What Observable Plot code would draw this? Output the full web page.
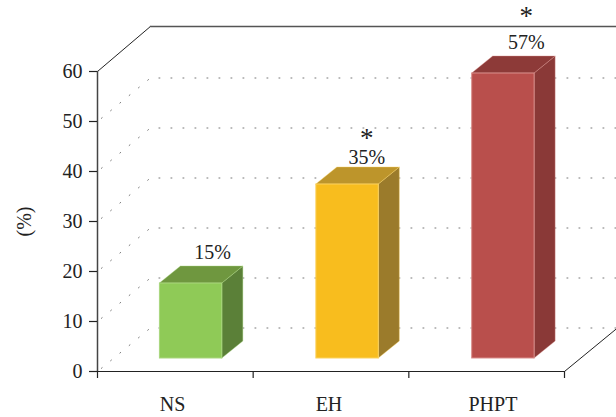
<!DOCTYPE html>
<html><head><meta charset="utf-8">
<script src="https://cdn.jsdelivr.net/npm/d3@7"></script>
<script src="https://cdn.jsdelivr.net/npm/@observablehq/plot@0.6"></script>
<style>html,body{margin:0;padding:0;background:#fff}svg{display:block;overflow:visible}</style>
</head><body><div id="chart"></div>
<script>
const categories = ["NS", "EH", "PHPT"];
const values = [15, 35, 57];
const labels = ["15%", "35%", "57%"];
const starred = [false, true, true];
const barStart = [0.401, 1.406, 2.407];
const barWidth = 0.401;
const base = 2.6;
const categoryX = [0.482, 1.487, 2.54];
const labelX = [0.74, 1.73, 2.755];
const labelOffset = [2.7, 2.0, 2.8];
const starOffset = [0, 5.8, 8.0];
const frontFill = ["#8fca57", "#f8bd1e", "#b94f4c"];
const topFill = ["#6f973f", "#bd952b", "#8d3a38"];
const sideFill = ["#5b8038", "#9b7b2b", "#8a3937"];
const edge = ["#a9d67e", "#fbd25f", "#d98f8c"];
const wallLevels = [0, 10, 20, 30, 40, 50];
const yTicks = [0, 10, 20, 30, 40, 50, 60];
const xTicks = [0, 1, 2, 3];
const depthX = 0.34, depthY = 8.7;
const barDepthX = 0.135, barDepthY = 3.4;

const font = "'Liberation Serif', serif";
const marks = [];

// back wall and floor dotted lines
const wall = wallLevels.flatMap(v => [
  {v, x: 0, y: v},
  {v, x: depthX, y: v + depthY},
  {v, x: 3 + depthX, y: v + depthY}
]);
marks.push(Plot.line(wall, {x: "x", y: "y", z: "v", stroke: "#777", strokeWidth: 1, strokeDasharray: "1 11", strokeDashoffset: -5}));

// solid frame
marks.push(Plot.line([{x: 0, y: 60}, {x: depthX, y: 60 + 9}], {x: "x", y: "y", stroke: "#222", strokeWidth: 1}));
marks.push(Plot.line([{x: depthX, y: 60 + 9}, {x: 3 + depthX, y: 60 + 9}], {x: "x", y: "y", stroke: "#555", strokeWidth: 1.5}));
marks.push(Plot.line([{x: 3, y: 0}, {x: 3 + depthX, y: depthY}], {x: "x", y: "y", stroke: "#222", strokeWidth: 1}));
marks.push(Plot.line([{x: 0, y: 0}, {x: 0, y: 60}], {x: "x", y: "y", stroke: "#444", strokeWidth: 1.5}));
marks.push(Plot.line([{x: 0, y: 0}, {x: 3, y: 0}], {x: "x", y: "y", stroke: "#222", strokeWidth: 1.2}));

// bars
categories.forEach((c, i) => {
  const x0 = barStart[i], x1 = x0 + barWidth, top = base + values[i] - (i === 1 ? 0.2 : 0);
  marks.push(Plot.areaY([
    {x: x1, y1: base, y2: top},
    {x: x1 + barDepthX, y1: base + barDepthY, y2: top + barDepthY}
  ], {x: "x", y1: "y1", y2: "y2", fill: sideFill[i], stroke: edge[i], strokeWidth: 0.4}));
  marks.push(Plot.areaX([
    {y: top, x1: x0, x2: x1},
    {y: top + barDepthY, x1: x0 + barDepthX, x2: x1 + barDepthX}
  ], {y: "y", x1: "x1", x2: "x2", fill: topFill[i], stroke: edge[i], strokeWidth: 0.4}));
  marks.push(Plot.rect([{x1: x0, x2: x1, y1: base, y2: top}], {x1: "x1", x2: "x2", y1: "y1", y2: "y2", fill: frontFill[i], stroke: edge[i], strokeWidth: 1}));
  marks.push(Plot.text([labels[i]], {x: () => labelX[i], y: () => top + labelOffset[i] + barDepthY, text: d => d, fontSize: 20, fill: "#222", lineAnchor: "middle"}));
  if (starred[i]) marks.push(Plot.text(["*"], {x: () => labelX[i], y: () => top + starOffset[i] + barDepthY, text: d => d, fontSize: 27, fill: "#222", lineAnchor: "middle"}));
});

// axes
marks.push(Plot.axisY(yTicks, {anchor: "left", tickSize: 8, tickPadding: 7, fontSize: 20, label: null, stroke: "#222", fill: "#222", strokeWidth: 1.2}));
marks.push(Plot.axisX(xTicks, {anchor: "bottom", tickSize: 7, tickFormat: () => "", label: null, stroke: "#222", strokeWidth: 1.2}));
marks.push(Plot.text(categories, {x: (d, i) => categoryX[i], y: () => 0, text: d => d, dy: 33, fontSize: 20, fill: "#222", lineAnchor: "middle"}));
marks.push(Plot.text(["(%)"], {x: () => -0.47, y: () => 30, text: d => d, rotate: -90, fontSize: 20, fill: "#222"}));

const plot = Plot.plot({
  width: 616, height: 417,
  marginLeft: 97, marginRight: 52, marginTop: 71, marginBottom: 46,
  style: {fontFamily: font, background: "#fff"},
  x: {type: "linear", domain: [0, 3], range: [97, 564]},
  y: {type: "linear", domain: [0, 60], range: [371, 71]},
  marks
});
document.getElementById("chart").append(plot);
</script></body></html>
